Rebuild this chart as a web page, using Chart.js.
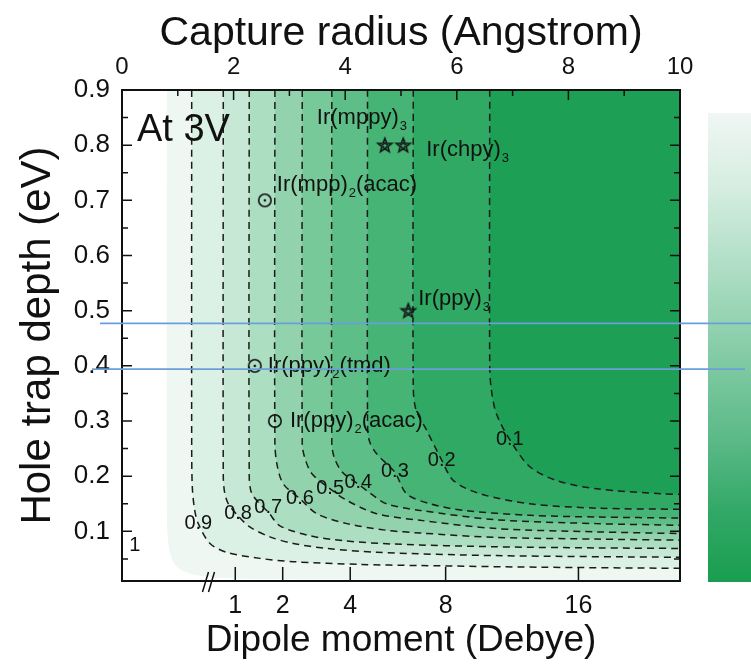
<!DOCTYPE html>
<html>
<head>
<meta charset="utf-8">
<script src="https://cdn.jsdelivr.net/npm/chart.js@4.4.1/dist/chart.umd.min.js"></script>
<style>
  html, body { margin: 0; padding: 0; background: #fff; }
  #wrap { width: 751px; height: 668px; }
</style>
</head>
<body>
<div id="wrap"><canvas id="contourChart" width="751" height="668"></canvas></div>
<script>
// capture radius (Angstrom) vs hole trap depth (eV)
const levelLabels = ['0.1', '0.2', '0.3', '0.4', '0.5', '0.6', '0.7', '0.8', '0.9', '1'];

const c01 = [[6.59,0.90],[6.59,0.40],[6.62,0.356],[6.71,0.313],[6.95,0.266],[7.31,0.217],[7.79,0.192],[8.51,0.177],[9.70,0.168],[10,0.167]];
const c02 = [[5.22,0.90],[5.22,0.36],[5.27,0.32],[5.46,0.283],[5.73,0.229],[5.94,0.192],[6.42,0.168],[7.31,0.150],[8.51,0.142],[10,0.140]];
const c03 = [[4.40,0.90],[4.40,0.30],[4.43,0.265],[4.56,0.241],[4.89,0.207],[5.10,0.168],[5.52,0.150],[6.12,0.138],[7.31,0.129],[8.51,0.126],[10,0.124]];
const c04 = [[3.76,0.90],[3.76,0.26],[3.80,0.235],[3.94,0.208],[4.24,0.185],[4.41,0.172],[4.74,0.150],[5.34,0.138],[6.71,0.121],[8.5,0.114],[10,0.111]];
const c05 = [[3.23,0.90],[3.23,0.26],[3.27,0.235],[3.40,0.205],[3.73,0.177],[4.03,0.156],[4.56,0.132],[5.34,0.120],[6.71,0.105],[8.5,0.099],[10,0.096]];
const c06 = [[2.74,0.90],[2.74,0.26],[2.78,0.22],[2.89,0.186],[3.19,0.159],[3.49,0.132],[4.03,0.114],[4.74,0.102],[5.34,0.097],[6.71,0.089],[8.5,0.086],[10,0.084]];
const c07 = [[2.28,0.90],[2.28,0.20],[2.32,0.170],[2.45,0.152],[2.62,0.135],[2.83,0.110],[3.37,0.092],[3.97,0.083],[4.86,0.077],[6.71,0.072],[8.5,0.070],[10,0.069]];
const c08 = [[1.815,0.90],[1.815,0.20],[1.84,0.170],[1.905,0.150],[2.08,0.128],[2.29,0.108],[2.65,0.090],[3.07,0.078],[3.67,0.069],[4.56,0.062],[6.71,0.056],[10,0.053]];
const c09 = [[1.249,0.90],[1.249,0.25],[1.26,0.18],[1.30,0.14],[1.367,0.114],[1.577,0.078],[1.876,0.062],[2.47,0.051],[3.07,0.045],[4.27,0.040],[5.34,0.038],[7.5,0.035],[10,0.033]];
const c10 = [[0.80,0.90],[0.80,0.15],[0.83,0.08],[0.92,0.045],[1.10,0.028],[1.5,0.018],[2.5,0.013],[10,0.011]];
const contours = [c01, c02, c03, c04, c05, c06, c07, c08, c09, c10];

// where each contour value is written
const labelR = [6.95, 5.73, 4.89, 4.235, 3.73, 3.19, 2.62, 2.08, 1.367, 0.23];
const labelE = [0.266, 0.229, 0.208, 0.189, 0.177, 0.159, 0.144, 0.132, 0.114, 0.075];

// emitters
const circleNames = ['Ir(mpp)_2(acac)', 'Ir(ppy)_2(tmd)', 'Ir(ppy)_2(acac)'];
const circleR = [2.56, 2.38, 2.74];
const circleE = [0.70, 0.40, 0.30];
const starNames = ['Ir(mppy)_3', 'Ir(chpy)_3', 'Ir(ppy)_3'];
const starR = [4.71, 5.04, 5.13];
const starE = [0.80, 0.80, 0.50];

// axes
const radiusTicks = [0, 2, 4, 6, 8, 10];
const trapTicks = [0.1, 0.2, 0.3, 0.4, 0.5, 0.6, 0.7, 0.8, 0.9];
const dipoleTicks = [1, 2, 4, 8, 16];
const dipoleTickR = [2.03, 2.88, 4.09, 5.80, 8.18];
const guideE = [0.477, 0.394];

const FONT = "'Liberation Sans', Arial, Helvetica, sans-serif";
const bandColors = ['#1da056', '#2fa964', '#45b475', '#5dbe87', '#77c999', '#92d3ad', '#acdec1', '#c6e8d5', '#dcf1e5', '#eef7f2'];
const circleOffsets = [[12, -15], [13, 0], [15, 0]];
const starOffsets = [[-68, -27], [23, 5], [10, -12]];

function makeCircle() {
    const c = document.createElement('canvas');
    c.width = c.height = 18;
    const g = c.getContext('2d');
    g.strokeStyle = '#111';
    g.lineWidth = 1.6;
    g.beginPath(); g.arc(9, 9, 6.2, 0, Math.PI * 2); g.stroke();
    g.fillStyle = '#111';
    g.beginPath(); g.arc(9, 9, 1.3, 0, Math.PI * 2); g.fill();
    return c;
}

function starPath(g, cx, cy, ro, ri) {
    g.beginPath();
    for (let i = 0; i < 10; i++) {
        const r = i % 2 ? ri : ro;
        const a = -Math.PI / 2 + i * Math.PI / 5;
        g.lineTo(cx + r * Math.cos(a), cy + r * Math.sin(a));
    }
    g.closePath();
}

function makeStar() {
    const c = document.createElement('canvas');
    c.width = c.height = 20;
    const g = c.getContext('2d');
    g.strokeStyle = '#111';
    g.lineWidth = 1.5;
    starPath(g, 10, 10.5, 7.5, 3.2);
    g.stroke();
    g.lineWidth = 1;
    starPath(g, 10, 10.5, 3.5, 1.5);
    g.stroke();
    return c;
}

function drawChem(ctx, str, x, y, size) {
    let cx = x;
    str.split(/(_\d)/).forEach(p => {
        if (!p) return;
        if (p[0] === '_') {
            ctx.font = Math.round(size * 0.6) + 'px ' + FONT;
            ctx.fillText(p[1], cx + 1, y + size * 0.38);
            cx += ctx.measureText(p[1]).width + 1;
        } else {
            ctx.font = size + 'px ' + FONT;
            ctx.fillText(p, cx, y);
            cx += ctx.measureText(p).width;
        }
    });
}

const decorPlugin = {
    id: 'decor',
    afterDraw(chart) {
        const ctx = chart.ctx;
        const a = chart.chartArea;
        const sx = chart.scales.x;
        const sy = chart.scales.y;
        ctx.save();

        // frame
        ctx.strokeStyle = '#111';
        ctx.lineWidth = 2;
        ctx.strokeRect(a.left, a.top, a.right - a.left, a.bottom - a.top);

        // inward ticks
        ctx.lineWidth = 1.5;
        ctx.beginPath();
        for (let v = 0.05; v < 0.9; v += 0.05) {
            const py = sy.getPixelForValue(v);
            const major = Math.abs(v * 10 - Math.round(v * 10)) < 0.01;
            const len = major ? 10 : 6;
            ctx.moveTo(a.left, py); ctx.lineTo(a.left + len, py);
            ctx.moveTo(a.right, py); ctx.lineTo(a.right - len, py);
        }
        for (let v = 1; v < 10; v++) {
            const px = sx.getPixelForValue(v);
            const len = v % 2 ? 6 : 10;
            ctx.moveTo(px, a.top); ctx.lineTo(px, a.top + len);
        }
        dipoleTickR.forEach(r => {
            const px = sx.getPixelForValue(r);
            ctx.moveTo(px, a.bottom); ctx.lineTo(px, a.bottom - 14);
        });
        ctx.stroke();

        // axis break on the dipole axis
        const bx = sx.getPixelForValue(1.55);
        ctx.lineWidth = 1.5;
        ctx.beginPath();
        [-3, 3].forEach(d => {
            ctx.moveTo(bx + d + 3, a.bottom - 9);
            ctx.lineTo(bx + d - 3, a.bottom + 11);
        });
        ctx.stroke();

        // contour values
        ctx.fillStyle = '#111';
        ctx.textAlign = 'center';
        ctx.textBaseline = 'middle';
        ctx.font = '20px ' + FONT;
        levelLabels.forEach((t, i) => {
            ctx.fillText(t, sx.getPixelForValue(labelR[i]), sy.getPixelForValue(labelE[i]));
        });

        // emitter names
        ctx.textAlign = 'left';
        circleNames.forEach((n, i) => {
            drawChem(ctx, n, sx.getPixelForValue(circleR[i]) + circleOffsets[i][0], sy.getPixelForValue(circleE[i]) + circleOffsets[i][1], 22);
        });
        starNames.forEach((n, i) => {
            drawChem(ctx, n, sx.getPixelForValue(starR[i]) + starOffsets[i][0], sy.getPixelForValue(starE[i]) + starOffsets[i][1], 22);
        });

        ctx.font = '38px ' + FONT;
        ctx.fillText('At 3V', a.left + 15, a.top + 41);

        // colour bar
        const cbTop = a.top + 23;
        const grad = ctx.createLinearGradient(0, cbTop, 0, a.bottom + 1);
        grad.addColorStop(0, '#f0f6f4');
        grad.addColorStop(0.15, '#d7eee2');
        grad.addColorStop(0.35, '#aadcc1');
        grad.addColorStop(0.5, '#87cda8');
        grad.addColorStop(0.7, '#5ab987');
        grad.addColorStop(0.85, '#32a866');
        grad.addColorStop(1, '#199e50');
        ctx.fillStyle = grad;
        ctx.fillRect(a.right + 28, cbTop, chart.width - a.right - 28, a.bottom + 1 - cbTop);

        // two blue guide lines across the figure
        ctx.strokeStyle = '#6b9fda';
        ctx.lineWidth = 1.6;
        ctx.beginPath();
        let gy = sy.getPixelForValue(guideE[0]);
        ctx.moveTo(a.left - 22, gy); ctx.lineTo(chart.width, gy);
        gy = sy.getPixelForValue(guideE[1]);
        ctx.moveTo(a.left - 30, gy); ctx.lineTo(chart.width - 6, gy);
        ctx.stroke();

        ctx.restore();
    }
};

const contourSets = contours.map((pts, i) => ({
    label: levelLabels[i],
    data: pts.map(p => ({ x: p[0], y: p[1] })),
    showLine: true,
    pointRadius: 0,
    borderColor: i === 9 ? 'rgba(0,0,0,0)' : '#1b1b1b',
    borderWidth: i === 9 ? 0 : 1.5,
    borderDash: [7, 5],
    tension: 0.3,
    fill: 'end',
    backgroundColor: bandColors[i]
}));

const markerSets = [
    {
        label: 'circles',
        data: circleR.map((r, i) => ({ x: r, y: circleE[i] })),
        pointStyle: makeCircle(),
        showLine: false
    },
    {
        label: 'stars',
        data: starR.map((r, i) => ({ x: r, y: starE[i] })),
        pointStyle: makeStar(),
        showLine: false
    }
];

new Chart(document.getElementById('contourChart'), {
    type: 'scatter',
    data: { datasets: markerSets.concat(contourSets) },
    options: {
        responsive: false,
        animation: false,
        events: [],
        layout: { padding: { left: 0, top: 0, right: 71, bottom: 0 } },
        plugins: {
            legend: { display: false },
            tooltip: { enabled: false },
            filler: { drawTime: 'beforeDatasetsDraw' }
        },
        scales: {
            x: {
                type: 'linear',
                position: 'bottom',
                min: 0,
                max: 10,
                afterBuildTicks: s => { s.ticks = dipoleTickR.map(v => ({ value: v })); },
                afterFit: s => { s.height = 87; },
                grid: { display: false, drawTicks: false },
                border: { display: false },
                ticks: {
                    autoSkip: false,
                    maxRotation: 0,
                    padding: 10,
                    color: '#111',
                    font: { family: FONT, size: 25 },
                    callback: (v, i) => String(dipoleTicks[i])
                },
                title: {
                    display: true,
                    text: 'Dipole moment (Debye)',
                    color: '#111',
                    font: { family: FONT, size: 37 },
                    padding: { top: 0, bottom: 5 }
                }
            },
            x2: {
                type: 'linear',
                position: 'top',
                min: 0,
                max: 10,
                afterBuildTicks: s => { s.ticks = radiusTicks.map(v => ({ value: v })); },
                afterFit: s => { s.height = 90; },
                grid: { display: false, drawTicks: false },
                border: { display: false },
                ticks: {
                    autoSkip: false,
                    maxRotation: 0,
                    padding: 8,
                    color: '#111',
                    font: { family: FONT, size: 24 }
                },
                title: {
                    display: true,
                    text: 'Capture radius (Angstrom)',
                    color: '#111',
                    font: { family: FONT, size: 41 },
                    padding: { top: 9, bottom: 0 }
                }
            },
            y: {
                type: 'linear',
                position: 'left',
                min: 0.01,
                max: 0.9,
                afterBuildTicks: s => { s.ticks = trapTicks.map(v => ({ value: v })); },
                afterFit: s => { s.width = 122; },
                grid: { display: false, drawTicks: false },
                border: { display: false },
                ticks: {
                    autoSkip: false,
                    padding: 12,
                    color: '#111',
                    font: { family: FONT, size: 26 },
                    callback: v => v.toFixed(1)
                },
                title: {
                    display: true,
                    text: 'Hole trap depth (eV)',
                    color: '#111',
                    font: { family: FONT, size: 42 },
                    padding: { top: 13, bottom: 0 }
                }
            }
        }
    },
    plugins: [decorPlugin]
});
</script>
</body>
</html>
